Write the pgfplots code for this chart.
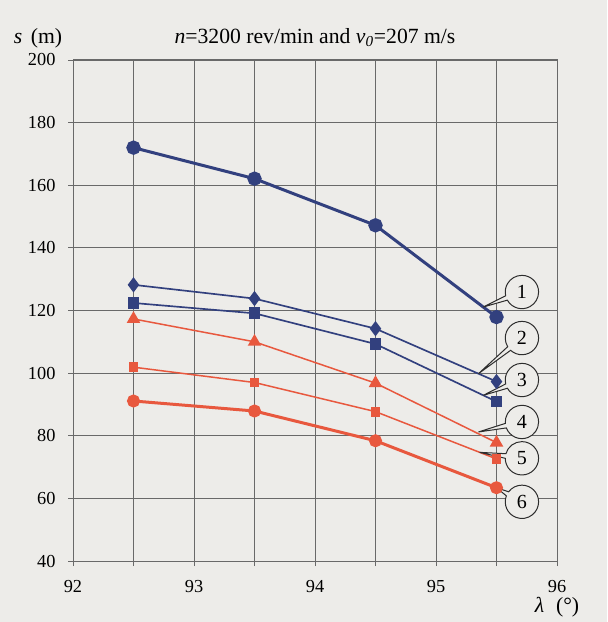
\documentclass[border=0pt]{standalone}
\usepackage{pgfplots}
\pgfplotsset{compat=1.18}
\usepackage{fontspec}
\setmainfont{Liberation Serif}
\usetikzlibrary{shapes.callouts,backgrounds}
\definecolor{bg}{RGB}{237,236,233}
\definecolor{navy}{RGB}{50,64,126}
\definecolor{redo}{RGB}{232,88,62}
\definecolor{gridc}{RGB}{105,105,105}
\definecolor{callc}{RGB}{45,45,45}
\begin{document}
\begin{tikzpicture}[lbl/.style={ellipse callout, draw=callc, fill=bg, line width=0.6pt,
    minimum width=20pt, minimum height=20pt, inner sep=0pt, callout pointer arc=16,
    font=\fontsize{12}{14}\selectfont}]
\begin{axis}[name=ax, scale only axis, width=290.4pt, height=300.6pt,
  xmin=92, xmax=96, ymin=40, ymax=200,
  xtick={92,93,94,95,96}, minor xtick={92.5,93.5,94.5,95.5},
  ytick={40,60,...,200},
  grid=both,
  major grid style={gridc, line width=0.5pt},
  minor grid style={gridc, line width=0.5pt},
  axis line style={gridc, line width=0.6pt},
  tick style={gridc, line width=0.5pt},
  tick align=outside, major tick length=3pt, minor tick length=3pt,
  xtick pos=lower, ytick pos=left,
  /pgf/number format/assume math mode=true,
  tick label style={font=\fontsize{11}{13}\selectfont},
  xticklabel style={yshift=-5pt},
  yticklabel style={xshift=-4pt},
  clip=false,
]
\addplot[navy, line width=1.8pt, mark=*, mark size=3.4pt] coordinates {(92.5,172)(93.5,162.1)(94.5,147.2)(95.5,117.9)};
\addplot[navy, line width=1pt, mark=diamond*, mark size=3.8pt] coordinates {(92.5,128.2)(93.5,123.8)(94.5,114.2)(95.5,97.3)};
\addplot[navy, line width=1pt, mark=square*, mark size=3pt] coordinates {(92.5,122.4)(93.5,119.1)(94.5,109.3)(95.5,90.9)};
\addplot[redo, line width=0.9pt, mark=triangle*, mark size=3.8pt] coordinates {(92.5,117.3)(93.5,110)(94.5,96.8)(95.5,77.8)};
\addplot[redo, line width=0.9pt, mark=square*, mark size=2.5pt] coordinates {(92.5,101.9)(93.5,97)(94.5,87.7)(95.5,72.6)};
\addplot[redo, line width=1.8pt, mark=*, mark size=3pt] coordinates {(92.5,91.1)(93.5,87.9)(94.5,78.4)(95.5,63.4)};

\node[lbl, callout absolute pointer={(axis cs:95.39,121.1)}] at (axis cs:95.71,125.9) {1};
\node[lbl, callout absolute pointer={(axis cs:95.35,99.8)}] at (axis cs:95.71,111.2) {2};
\node[lbl, callout absolute pointer={(axis cs:95.39,92.9)}] at (axis cs:95.71,97.8) {3};
\node[lbl, callout absolute pointer={(axis cs:95.35,81.2)}] at (axis cs:95.71,84.4) {4};
\node[lbl, callout absolute pointer={(axis cs:95.36,74.7)}] at (axis cs:95.71,72.8) {5};
\node[lbl, callout absolute pointer={(axis cs:95.5,63.4)}] at (axis cs:95.71,58.9) {6};

\node[anchor=base, yshift=10pt, font=\fontsize{13}{15}\selectfont] at (rel axis cs:0.5,1) {\textit{n}=3200 rev/min and \textit{v}\textsubscript{\textit{0}}=207 m/s};
\node[anchor=base, xshift=-21pt, yshift=10pt, font=\fontsize{13}{15}\selectfont] at (rel axis cs:0,1) {\textit{s}\hspace{0.15em} (m)};
\node[xshift=0pt, yshift=-28pt, font=\fontsize{13}{15}\selectfont] at (rel axis cs:1,0) {\textit{λ}\hspace{0.3em} (°)};
\end{axis}
\pgfresetboundingbox
\path[use as bounding box] ([xshift=-43.8pt,yshift=-36.6pt]ax.south west) rectangle ([xshift=30pt,yshift=36pt]ax.north east);
\begin{scope}[on background layer]
\fill[bg] ([xshift=-43.8pt,yshift=-36.6pt]ax.south west) rectangle ([xshift=30pt,yshift=36pt]ax.north east);
\end{scope}
\end{tikzpicture}
\end{document}
